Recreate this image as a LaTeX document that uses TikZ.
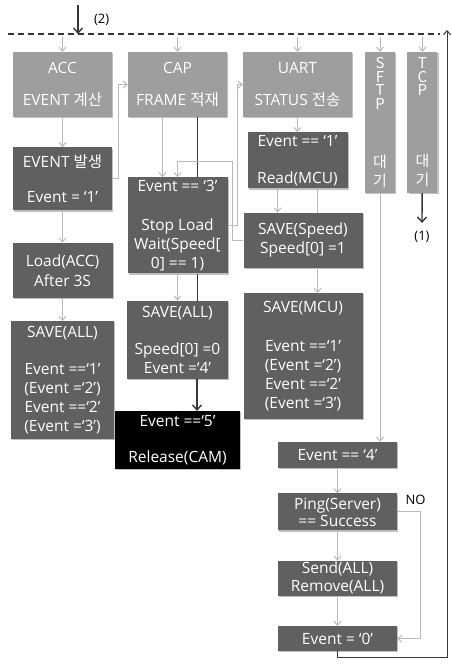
\documentclass[tikz,border=0pt]{standalone}
\usepackage{fontspec}
\setmainfont{Open Sans}
\newfontfamily\kr{Noto Sans CJK KR}
\usepackage{xcolor}
\usepackage{tikz}
\usetikzlibrary{arrows.meta, positioning, shadows}
\definecolor{boxlight}{RGB}{158,158,158}
\definecolor{boxdark}{RGB}{96,96,96}
\definecolor{linelight}{RGB}{185,185,185}
\definecolor{linedark}{RGB}{55,55,55}

\begin{document}
\begin{tikzpicture}[x=1pt, y=-1pt,
    box/.style={text=white, align=center, inner sep=0pt, font=\fontsize{15.5}{19}\selectfont,
                drop shadow={shadow xshift=1.2pt, shadow yshift=-1.2pt, fill=black, opacity=.25}},
    lbox/.style={box, fill=boxlight},
    dbox/.style={box, fill=boxdark},
    larr/.style={draw=linelight, line width=1pt, -{Straight Barb[length=4pt,width=7pt]}},
    darr/.style={draw=linedark, line width=1.4pt, -{Straight Barb[length=5pt,width=9pt]}},
    dline/.style={draw=linedark, line width=1.4pt}]
    \useasboundingbox (0,0) rectangle (451,668);

    % task headers
    \node [lbox, minimum width=99pt, minimum height=65pt] (acc) at (62.5,84.5) {ACC\\[13pt]EVENT {\kr 계산}};
    \node [lbox, minimum width=99pt, minimum height=65pt] (cap) at (177.5,84.5) {CAP\\[13pt]FRAME {\kr 적재}};
    \node [lbox, minimum width=109pt, minimum height=65pt] (uart) at (297.5,84.5) {UART\\[13pt]STATUS {\kr 전송}};
    \node [lbox, font=\kr\fontsize{15}{19}\selectfont, minimum width=30pt, minimum height=141pt] (sftp) at (380,122.5)
        {S\\[-5.5pt]F\\[-5.5pt]T\\[-5.5pt]P\\[39pt]대\\기};
    \node [lbox, font=\kr\fontsize{15}{19}\selectfont, minimum width=30pt, minimum height=141pt, right=12pt of sftp] (tcp)
        {T\\[-5.5pt]C\\[-5.5pt]P\\[52pt]대\\기};

    % ACC column
    \node [dbox, minimum width=99pt, minimum height=63pt, below=30pt of acc] (evocc) {EVENT {\kr 발생}\\[16pt]Event = ‘1’};
    \node [dbox, minimum width=100pt, minimum height=55pt, below=32pt of evocc] (load) {Load(ACC)\\[1pt]After 3S};
    \node [dbox, minimum width=103pt, minimum height=118pt, below=23pt of load] (saveall) {SAVE(ALL)\\[18pt]Event ==‘1’\\(Event =‘2’)\\Event ==‘2’\\(Event =‘3’)};

    % CAP column
    \node [dbox, minimum width=100pt, minimum height=96pt, below=60pt of cap] (stopld) {Event == ‘3’\\[20pt]Stop Load\\Wait(Speed[\\0] == 1)};
    \node [dbox, minimum width=101pt, minimum height=78pt, below=27pt of stopld] (savecam) {SAVE(ALL)\\[18pt]Speed[0] =0\\Event =‘4’};
    \node [box, fill=black, minimum width=125pt, minimum height=58pt, below=32pt of savecam] (release) {Event ==‘5’\\[17pt]Release(CAM)};

    % UART column
    \node [dbox, minimum width=100pt, minimum height=56pt, below=15pt of uart] (readmcu) {Event == ‘1’\\[18pt]Read(MCU)};
    \node [dbox, minimum width=119pt, minimum height=55pt, below=24pt of readmcu, xshift=5.5pt] (savespd) {SAVE(Speed)\\Speed[0] =1};
    \node [dbox, minimum width=119pt, minimum height=126pt, below=25pt of savespd] (savemcu) {SAVE(MCU)\\[20pt]Event ==‘1’\\(Event =‘2’)\\Event ==‘2’\\(Event =‘3’)};

    % SFTP chain
    \node [dbox, minimum width=119pt, minimum height=26pt] (ev4) at (337.5,455) {Event == ‘4’};
    \node [dbox, minimum width=119pt, minimum height=37pt, below=25pt of ev4] (ping) {Ping(Server)\\[-2pt]== Success};
    \node [dbox, minimum width=119pt, minimum height=35pt, below=30pt of ping] (send) {Send(ALL)\\[-1pt]Remove(ALL)};
    \node [dbox, minimum width=119pt, minimum height=25pt, below=30pt of send] (ev0) {Event = ‘0’};

    % bus and entry points
    \coordinate (busL) at (8,34);
    \coordinate (busR) at (440,34);
    \coordinate (in2) at (78,5);
    \coordinate (out1) at (422,223);
    \coordinate (retB) at (447,657);
    \coordinate (retT) at (447,30);

    \draw [draw=linedark, line width=1.3pt, dash pattern=on 6pt off 4pt] (busL) -- (busR);
    \draw [darr] (in2) -- (in2 |- busL) node [pos=0.5, right=12pt, font=\fontsize{13}{15}\selectfont] {(2)};
    \foreach \t in {acc, cap, uart, sftp, tcp}
        \draw [larr, shorten <=3pt] (\t.north |- busL) -- (\t.north);
    \draw [darr] (tcp) -- (out1) node [below=4pt, font=\fontsize{13}{15}\selectfont] {(1)};

    \draw [larr] (acc) -- (evocc);
    \draw [larr] (evocc) -- (load);
    \draw [larr] (load) -- (saveall);
    \draw [larr] (evocc.east) -- ++(6,0) |- (cap.west);

    \draw [larr] ([xshift=-15pt]cap.south) -- ([xshift=-15pt]cap.south |- stopld.north);
    \draw [dline] ([xshift=20pt]cap.south) -- ([xshift=20pt]cap.south |- stopld.north);
    \draw [larr] (stopld) -- (savecam);
    \draw [dline] ([xshift=20pt]stopld.south) -- ([xshift=20pt]stopld.south |- savecam.north);
    \draw [darr] ([xshift=19.5pt]savecam.south) -- ([xshift=19.5pt]release.north);
    \draw [larr] (stopld.east) -- ++(10,0) |- (uart.west);
    \draw [larr] (savespd.west) -- ++(-11,0) |- ([yshift=16pt]stopld.north) -- (stopld.north);

    \draw [larr] (uart) -- (readmcu);
    \draw [larr] ([xshift=-20pt]readmcu.south) -- ([xshift=-20pt]readmcu.south |- savespd.north);
    \draw [draw=linelight, line width=1pt] ([xshift=20pt]readmcu.south) -- ([xshift=20pt]readmcu.south |- savespd.north);
    \draw [larr] ([xshift=14.5pt]savespd.south) -- ([xshift=14.5pt]savespd.south |- savemcu.north);

    \draw [larr] (sftp.south) -- (sftp.south |- ev4.north);
    \draw [larr] (ev4) -- (ping);
    \draw [larr] (ping) -- (send);
    \draw [larr] (send) -- (ev0);
    \draw [larr] (ping.east) -- ++(23,0) node [pos=0.8, above=3pt, text=black, font=\fontsize{13}{15}\selectfont] {NO} |- (ev0.east);
    \draw [draw=linedark, line width=1pt, -{Straight Barb[length=4pt,width=7pt]}] (ev0.south) |- (retB) -- (retT);
\end{tikzpicture}
\end{document}
